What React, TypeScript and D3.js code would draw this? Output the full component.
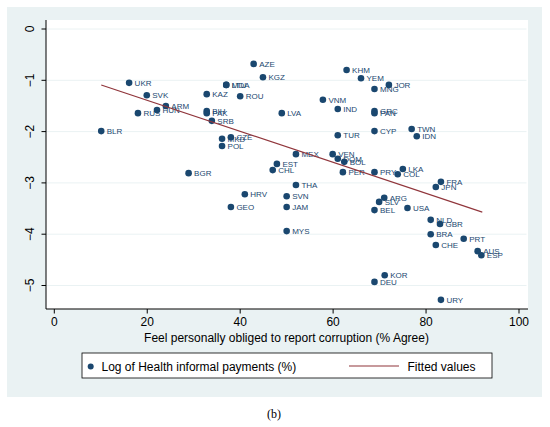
import React from "react";
import * as d3 from "d3";

const countries = ["AZE","KGZ","KHM","YEM","JOR","MNG","UKR","MDA","LTU","ROU","SVK","KAZ","ARM","HUN","RUS","BIH","PAK","SRB","BLR","LVA","VNM","IND","GRC","PAN","TUR","CYP","TWN","IDN","MKD","CZE","POL","MEX","VEN","DOM","BOL","EST","CHL","PER","PRY","LKA","COL","FRA","JPN","BGR","THA","SVN","JAM","HRV","GEO","MYS","ARG","SLV","BEL","USA","NLD","GBR","BRA","CHE","PRT","AUS","ESP","KOR","DEU","URY"];
const agree = [42.9,44.9,62.9,66.0,72.0,68.9,16.1,37.0,37.0,40.0,19.9,32.8,24.0,22.1,18.0,32.8,32.8,33.9,10.1,48.95,57.8,61.0,68.9,68.9,61.0,68.9,76.9,78.0,36.1,38.0,36.1,52.0,59.9,61.0,62.4,47.9,47.0,62.1,68.9,75.0,73.9,83.2,82.1,28.9,52.0,50.0,50.0,41.0,38.0,50.0,71.0,69.9,68.9,76.0,81.0,83.0,81.0,82.1,88.1,91.1,91.9,71.1,68.9,83.2];
const logPayments = [-0.68,-0.94,-0.80,-0.96,-1.09,-1.17,-1.05,-1.09,-1.09,-1.31,-1.29,-1.27,-1.50,-1.58,-1.64,-1.60,-1.64,-1.79,-1.99,-1.64,-1.38,-1.56,-1.60,-1.64,-2.07,-1.99,-1.95,-2.09,-2.14,-2.11,-2.28,-2.44,-2.44,-2.53,-2.59,-2.63,-2.75,-2.79,-2.79,-2.73,-2.83,-2.98,-3.08,-2.81,-3.04,-3.26,-3.47,-3.22,-3.47,-3.94,-3.29,-3.37,-3.53,-3.49,-3.72,-3.80,-4.00,-4.21,-4.09,-4.33,-4.41,-4.80,-4.93,-5.28];
const fittedX = [10.1, 92.1];
const fittedY = [-1.09, -3.57];
const xTicks = [0, 20, 40, 60, 80, 100];
const yTicks = [0, -1, -2, -3, -4, -5];

const NAVY = "#1a476f";
const MAROON = "#90353b";
const BG = "#eaf2f3";
const FONT = "Liberation Sans, Arial, sans-serif";

export default function App() {
  const x = d3.scaleLinear().domain([0, 100]).range([54.3, 519]);
  const y = d3.scaleLinear().domain([0, -5]).range([29, 285.5]);
  const plot = { l: 46, r: 528, t: 20, b: 309 };
  const line = d3.line<number>().x((_, i) => x(fittedX[i])).y((_, i) => y(fittedY[i]));

  return (
    <svg width={550} height={427} style={{ position: "absolute", left: 0, top: 0 }}>
      <rect x={0} y={0} width={550} height={427} fill="#fff" />
      <rect x={7} y={7} width={535} height={390} fill={BG} />
      <rect x={plot.l} y={plot.t} width={plot.r - plot.l} height={plot.b - plot.t} fill="#fff" />
      {yTicks.map((t) => (
        <line key={"g" + t} x1={plot.l} x2={plot.r - 1.5} y1={y(t)} y2={y(t)} stroke={BG} strokeWidth={1} />
      ))}
      {/* axes */}
      <line x1={plot.l} x2={plot.l} y1={plot.t} y2={plot.b} stroke="#000" strokeWidth={1} />
      <line x1={plot.l} x2={plot.r} y1={plot.b} y2={plot.b} stroke="#000" strokeWidth={1} />
      {yTicks.map((t) => (
        <g key={"y" + t}>
          <line x1={plot.l - 4.5} x2={plot.l} y1={y(t)} y2={y(t)} stroke="#000" />
          <text
            transform={`translate(34,${y(t)}) rotate(-90)`}
            textAnchor="middle"
            fontFamily={FONT}
            fontSize={12}
            fill="#000"
          >
            {t === 0 ? "0" : "\u2212" + Math.abs(t)}
          </text>
        </g>
      ))}
      {xTicks.map((t) => (
        <g key={"x" + t}>
          <line x1={x(t)} x2={x(t)} y1={plot.b} y2={plot.b + 4.5} stroke="#000" />
          <text x={x(t)} y={326} textAnchor="middle" fontFamily={FONT} fontSize={12} fill="#000">
            {t}
          </text>
        </g>
      ))}
      <text x={286.5} y={341.5} textAnchor="middle" fontFamily={FONT} fontSize={12} fill="#000">
        Feel personally obliged to report corruption (% Agree)
      </text>
      {/* points */}
      {countries.map((c, i) => (
        <g key={c}>
          <circle cx={x(agree[i])} cy={y(logPayments[i])} r={3.3} fill={NAVY} />
          <text
            x={x(agree[i]) + 5.5}
            y={y(logPayments[i]) + 3}
            fontFamily={FONT}
            fontSize={8}
            fill={NAVY}
          >
            {c}
          </text>
        </g>
      ))}
      <path d={line(fittedX) || ""} fill="none" stroke={MAROON} strokeWidth={1.1} />
      {/* legend */}
      <rect x={82} y={353} width={410} height={25} fill="#fff" stroke="#000" strokeWidth={0.8} />
      <circle cx={90.7} cy={366.5} r={3} fill={NAVY} />
      <text x={101.5} y={371} fontFamily={FONT} fontSize={12} fill="#000">
        Log of Health informal payments (%)
      </text>
      <line x1={349} x2={399} y1={366} y2={366} stroke={MAROON} strokeWidth={1.1} />
      <text x={407.5} y={371} fontFamily={FONT} fontSize={12} fill="#000">
        Fitted values
      </text>
      <text x={274} y={418} textAnchor="middle" fontFamily="Liberation Serif, Times New Roman, serif" fontSize={12} fill="#000">
        (b)
      </text>
    </svg>
  );
}
